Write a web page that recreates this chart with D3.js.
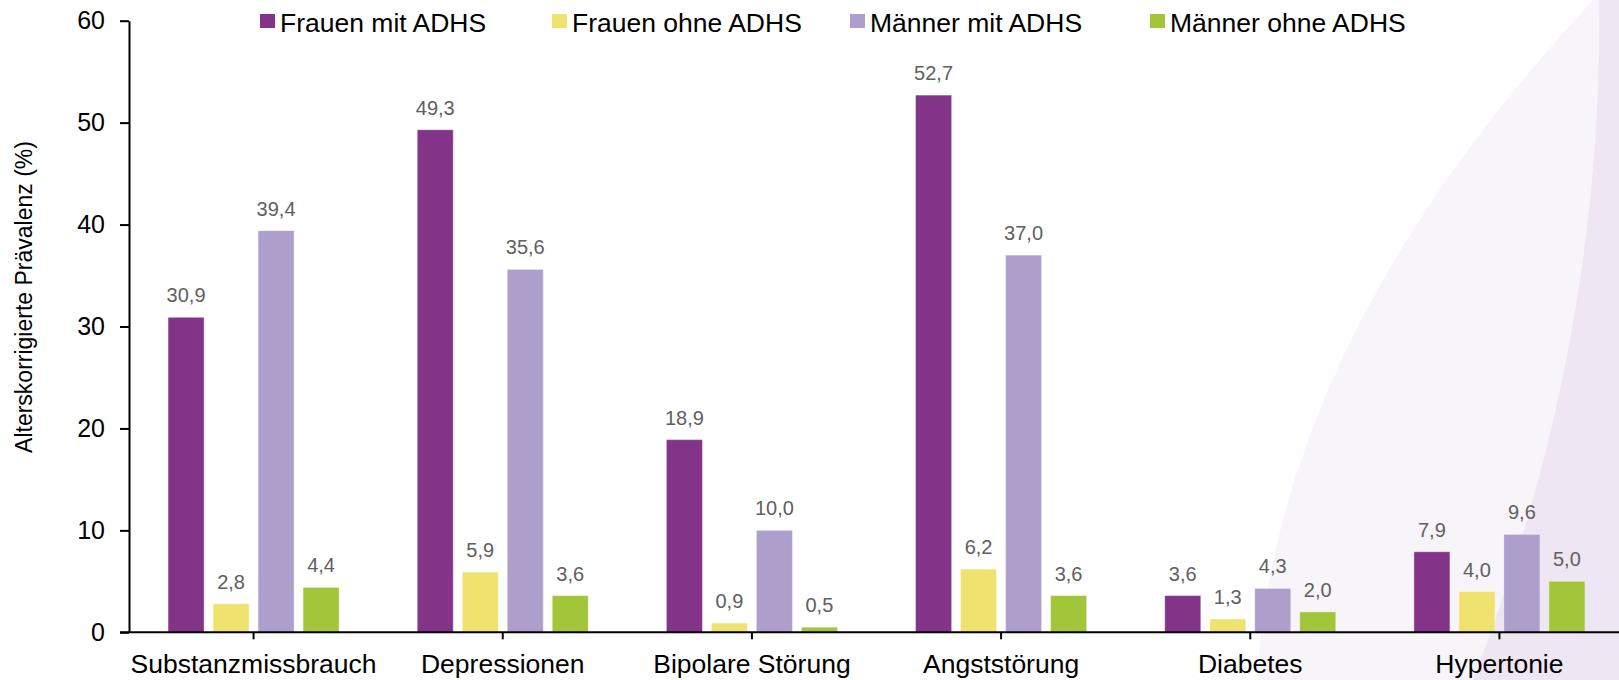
<!DOCTYPE html>
<html>
<head>
<meta charset="utf-8">
<script src="https://cdn.jsdelivr.net/npm/d3@7"></script>
<style>
  body { margin: 0; background: #fff; }
  text { font-family: "Liberation Sans", Arial, sans-serif; }
</style>
</head>
<body>
<section></section>
<script>
// chart data
var categories = ["Substanzmissbrauch", "Depressionen", "Bipolare Störung", "Angststörung", "Diabetes", "Hypertonie"];
var seriesNames = ["Frauen mit ADHS", "Frauen ohne ADHS", "Männer mit ADHS", "Männer ohne ADHS"];
var frauenMit = [30.9, 49.3, 18.9, 52.7, 3.6, 7.9];
var frauenOhne = [2.8, 5.9, 0.9, 6.2, 1.3, 4.0];
var maennerMit = [39.4, 35.6, 10.0, 37.0, 4.3, 9.6];
var maennerOhne = [4.4, 3.6, 0.5, 3.6, 2.0, 5.0];
var yTicks = [0, 10, 20, 30, 40, 50, 60];
var colors = ["#833388", "#EFE26E", "#AE9ECB", "#A2C53A"];

var width = 1619, height = 680;
var plotLeft = 129, plotRight = 1624, plotTop = 20.7, plotBottom = 632.3;

var values = [frauenMit, frauenOhne, maennerMit, maennerOhne];
var rows = [];
categories.forEach(function(c, i) {
  seriesNames.forEach(function(s, j) {
    rows.push({cat: c, series: s, idx: j, value: values[j][i]});
  });
});

var svg = d3.select("section").append("svg")
  .attr("width", width)
  .attr("height", height)
  .style("display", "block");

// decorative background swoosh on the right
function swoosh(x0, cx, x1) {
  var p = d3.path();
  p.moveTo(x0, 0);
  p.quadraticCurveTo(cx, height / 2, x1, height);
  p.lineTo(width, height);
  p.lineTo(width, 0);
  p.closePath();
  return p.toString();
}
svg.append("path").attr("d", swoosh(1593, 1277, 1257)).attr("fill", "#F7F5FA");
svg.append("path").attr("d", swoosh(1599, 1604, 1473)).attr("fill", "#EEE6F3");

var x0 = d3.scaleBand().domain(categories).range([plotLeft, plotRight]);
var x1 = d3.scaleBand().domain(seriesNames).range([0, 171]).paddingInner(0.2);
var y = d3.scaleLinear().domain([0, 60]).range([plotBottom, plotTop]);
var groupOffset = (x0.bandwidth() - 171) / 2;

var locale = d3.formatLocale({decimal: ",", thousands: ".", grouping: [3], currency: ["", "€"]});
var fmt = locale.format(".1f");

var g = svg.append("g");

g.selectAll("rect.bar")
  .data(rows)
  .enter().append("rect")
  .attr("class", "bar")
  .attr("x", function(d) { return x0(d.cat) + groupOffset + x1(d.series); })
  .attr("y", function(d) { return y(d.value); })
  .attr("width", x1.bandwidth())
  .attr("height", function(d) { return plotBottom - y(d.value); })
  .attr("fill", function(d) { return colors[d.idx]; })
  .attr("stroke", "#ffffff")
  .attr("stroke-opacity", 0.35)
  .attr("stroke-width", 1);

g.selectAll("text.val")
  .data(rows)
  .enter().append("text")
  .attr("class", "val")
  .attr("x", function(d) { return x0(d.cat) + groupOffset + x1(d.series) + x1.bandwidth() / 2; })
  .attr("y", function(d) { return y(d.value) - 15; })
  .attr("text-anchor", "middle")
  .attr("font-size", 20)
  .attr("fill", "#606060")
  .text(function(d) { return fmt(d.value); });

// axes
var yAxis = d3.axisLeft(y).tickValues(yTicks).tickSize(9).tickSizeOuter(0).tickPadding(15);
var yg = svg.append("g").attr("transform", "translate(" + plotLeft + ",0)").call(yAxis);
yg.select(".domain").attr("stroke", "#000").attr("stroke-width", 2);
yg.selectAll(".tick line").attr("stroke", "#000").attr("stroke-width", 2);
yg.selectAll(".tick text").attr("font-size", 25).attr("fill", "#000")
  .style("font-family", "'Liberation Sans', Arial, sans-serif");

var xAxis = d3.axisBottom(x0).tickSize(7).tickSizeOuter(0).tickPadding(15);
var xg = svg.append("g").attr("transform", "translate(0," + plotBottom + ")").call(xAxis);
xg.select(".domain").attr("d", "M" + (plotLeft - 9) + ",0H" + width).attr("stroke", "#000").attr("stroke-width", 2);
xg.selectAll(".tick line").attr("stroke", "#000").attr("stroke-width", 2);
xg.selectAll(".tick text").attr("font-size", 26.5).attr("fill", "#000")
  .style("font-family", "'Liberation Sans', Arial, sans-serif");

svg.append("text")
  .attr("transform", "translate(32,297) rotate(-90)")
  .attr("text-anchor", "middle")
  .attr("font-size", 23)
  .attr("fill", "#000")
  .text("Alterskorrigierte Prävalenz (%)");

// legend
var legendX = [260, 552, 850, 1150];
var legend = svg.append("g");
seriesNames.forEach(function(s, i) {
  var item = legend.append("g").attr("transform", "translate(" + legendX[i] + ",0)");
  item.append("rect").attr("x", 0).attr("y", 14).attr("width", 15).attr("height", 14).attr("fill", colors[i]);
  item.append("text").attr("x", 20).attr("y", 31.5).attr("font-size", 26.5).attr("fill", "#000").text(s);
});
</script>
</body>
</html>
